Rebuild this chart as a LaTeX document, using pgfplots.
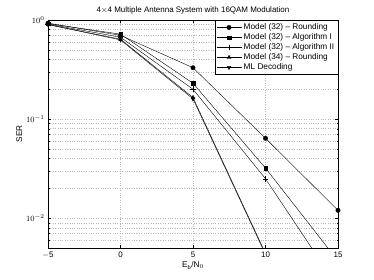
\documentclass[border=0pt]{standalone}
\usepackage{pgfplots}
\pgfplotsset{compat=1.18}
\usepackage{fontspec}
\setmainfont{Liberation Sans}
\begin{document}
\begin{tikzpicture}[x=1bp,y=1bp]
\path (0,0) rectangle (374,280);
\begin{axis}[
  at={(48bp,32bp)}, anchor=south west,
  scale only axis, width=290bp, height=228bp,
  ymode=log, xmin=-5, xmax=15, ymin=0.005, ymax=1,
  xtick={-5,0,5,10,15},
  ytick={0.01,0.1,1},
  minor ytick={0.005,0.006,0.007,0.008,0.009,0.02,0.03,0.04,0.05,0.06,0.07,0.08,0.09,0.2,0.3,0.4,0.5,0.6,0.7,0.8,0.9},
  log basis y=10,
  grid=both,
  major grid style={dotted, gray!55, line width=0.4pt},
  minor grid style={dotted, gray!55, line width=0.4pt},
  minor x tick num=0,
  tick align=inside,
  axis line style={line width=0.5pt},
  tick style={black, line width=0.3pt},
  major tick length=3bp, minor tick length=1.5bp,
  ticklabel style={font=\fontsize{8}{9}\selectfont},
  /pgf/number format/assume math mode=true,
  xticklabels={$-$5,0,5,10,15},
  title={4$\times$4 Multiple Antenna System with 16QAM Modulation},
  title style={font=\fontsize{8}{9}\selectfont, yshift=-4bp},
  xlabel={E$_\mathrm{b}$/N$_0$},
  ylabel={SER},
  xlabel style={font=\fontsize{8.3}{9}\selectfont, yshift=3bp},
  ylabel style={font=\fontsize{8.3}{9}\selectfont, yshift=-3bp},
  legend style={at={(1,1)}, anchor=north east, font=\fontsize{8.3}{9}\selectfont,
    draw=black, line width=0.5pt, inner sep=1.5bp, row sep=-1.5bp, cells={anchor=west}},
  legend cell align=left,
  legend image code/.code={\draw[mark repeat=2,mark phase=2,#1] plot coordinates {(0bp,0bp) (12.5bp,0bp) (25bp,0bp)};},
  every axis plot/.append style={black, line width=0.4pt, mark size=2.2bp},
  clip=true,
]
\addplot[mark=*, mark options={fill=black}] coordinates {(-5,0.93) (0,0.70) (5,0.33) (10,0.064) (15,0.012)};
\addlegendentry{Model (32) -- Rounding}
\addplot[mark=square*, mark size=1.7bp, mark options={fill=black}] coordinates {(-5,0.92) (0,0.72) (5,0.23) (10,0.032) (15,0.0037)};
\addlegendentry{Model (32) -- Algorithm I}
\addplot[mark=+, mark size=2.8bp, mark options={line width=0.3pt}] coordinates {(-5,0.91) (0,0.67) (5,0.20) (10,0.025) (15,0.002)};
\addlegendentry{Model (32) -- Algorithm II}
\addplot[mark=triangle*, mark options={fill=black}] coordinates {(-5,0.90) (0,0.64) (5,0.165) (10,0.0044)};
\addlegendentry{Model (34) -- Rounding}
\addplot[mark=triangle*, mark options={fill=black, rotate=180}] coordinates {(-5,0.90) (0,0.63) (5,0.16) (10,0.0043)};
\addlegendentry{ML Decoding}
\end{axis}
\end{tikzpicture}
\end{document}
